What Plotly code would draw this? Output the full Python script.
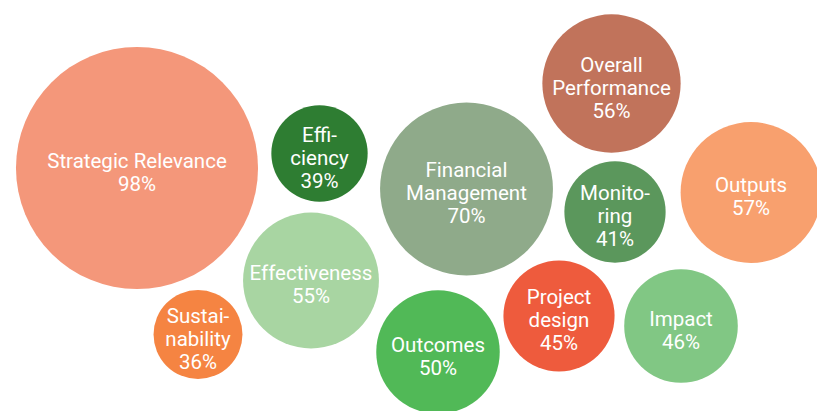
import plotly.graph_objects as go

# criteria, scores (%) and bubble centres (in chart units)
labels = ['Strategic Relevance', 'Effi-<br>ciency', 'Financial<br>Management', 'Overall<br>Performance',
          'Monito-<br>ring', 'Outputs', 'Effectiveness', 'Sustai-<br>nability', 'Outcomes',
          'Project<br>design', 'Impact']
scores = [98, 39, 70, 56, 41, 57, 55, 36, 50, 45, 46]
x_pos = [137, 319.5, 466.5, 611.5, 615, 751, 311, 198, 438, 559, 681]
y_pos = [168, 153.5, 189, 83.5, 212, 192.5, 280.5, 334.5, 352, 316, 326]
colors = ['#F4977A', '#2E7D32', '#8FAA8A', '#C1735B', '#5B975C', '#F8A06E',
          '#A8D5A2', '#F58442', '#51B957', '#EE5B3D', '#81C784']

W, H = 817, 411
px_per_pct = 2.47  # bubble diameter in px per percentage point
line_h = 23

fig = go.Figure()
fig.add_trace(go.Scatter(
    x=x_pos, y=y_pos, mode='markers',
    marker=dict(size=scores, sizemode='diameter', sizeref=1 / px_per_pct,
                color=colors, opacity=1, line=dict(width=0)),
    hoverinfo='skip', showlegend=False,
))

# text, one line per trace row so line spacing can be set
tx, ty, tt = [], [], []
for lab, s, x, y in zip(labels, scores, x_pos, y_pos):
    lines = lab.split('<br>') + ['%d%%' % s]
    n = len(lines)
    for i, ln in enumerate(lines):
        tx.append(x)
        ty.append(y + 6 + (i - (n - 1) / 2) * line_h)
        tt.append(ln)

fig.add_trace(go.Scatter(
    x=tx, y=ty, mode='text', text=tt, textposition='middle center',
    textfont=dict(family='Roboto', size=20.5, color='white'),
    hoverinfo='skip', showlegend=False,
))

fig.update_layout(
    width=W, height=H,
    margin=dict(l=0, r=0, t=0, b=0),
    plot_bgcolor='white', paper_bgcolor='white',
    xaxis=dict(range=[0, W], visible=False, fixedrange=True),
    yaxis=dict(range=[H, 0], visible=False, fixedrange=True),
)

# drop the default page margin so the chart fills the window
fig.write_html("out.html", config={'displayModeBar': False},
               post_script="document.body.style.margin='0';document.body.style.overflow='hidden';")
